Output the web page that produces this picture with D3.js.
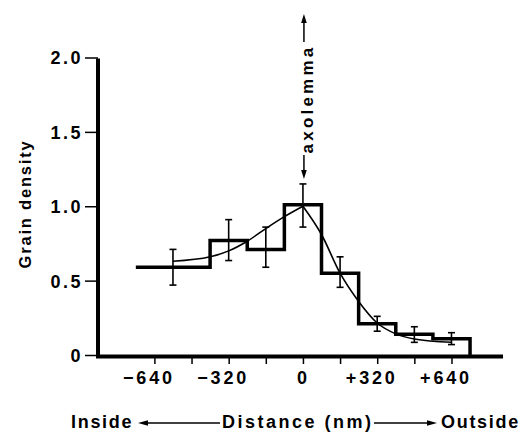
<!DOCTYPE html>
<html>
<head>
<meta charset="utf-8">
<script src="https://cdn.jsdelivr.net/npm/d3@7"></script>
<style>
  body { margin: 0; background: #fff; }
  svg { display: block; font-family: "Liberation Sans", Arial, sans-serif; font-weight: bold; }
</style>
</head>
<body>
<div id="chart"></div>
<script>
///////// data //////////
// histogram bins (nm) and grain density
let binEdges = [-720, -400, -240, -80, 80, 240, 400, 560, 720];
let binDensity = [0.59, 0.77, 0.71, 1.01, 0.55, 0.21, 0.14, 0.11];

// error bars
let errX = [-560, -320, -160, 0, 160, 320, 480, 640];
let errHi = [0.71, 0.91, 0.86, 1.15, 0.66, 0.26, 0.19, 0.15];
let errLo = [0.47, 0.635, 0.59, 0.86, 0.455, 0.16, 0.085, 0.07];

// fitted smooth curve
let fitX = [-560, -400, -320, -240, -160, -80, 0, 80, 160, 240, 320, 400, 480, 640];
let fitY = [0.63, 0.66, 0.70, 0.765, 0.85, 0.93, 1.0, 0.81, 0.55, 0.36, 0.215, 0.142, 0.108, 0.086];

// axis ticks
let yTicks = [0, 0.5, 1.0, 1.5, 2.0];
let yTickLabels = ["0", "0.5", "1.0", "1.5", "2.0"];
let xTicks = [-640, -480, -320, -160, 0, 160, 320, 480, 640];
let xLabelled = {"-640": "\u2212640", "-320": "\u2212320", "0": "0", "320": "+320", "640": "+640"};

////////////////////// drawing //////////////////////
let width = 524, height = 432;
let svg = d3.select("#chart").append("svg")
  .attr("width", width)
  .attr("height", height);

let x = d3.scaleLinear().domain([-883, 862]).range([98, 503]);
let y = d3.scaleLinear().domain([0, 2]).range([355, 57.5]);

// y axis
let yAxis = svg.append("g")
  .attr("transform", "translate(" + x.range()[0] + ",0)")
  .call(d3.axisLeft(y).tickValues(yTicks).tickSize(13)
        .tickFormat((d, i) => yTickLabels[i]));
yAxis.select(".domain").remove();
yAxis.selectAll(".tick line").attr("stroke", "#000").attr("stroke-width", 1.5);
yAxis.selectAll(".tick text")
  .attr("x", -15)
  .attr("dy", "0.36em")
  .style("font-size", "18px")
  .style("font-family", "Liberation Sans, Arial, sans-serif")
  .style("font-weight", "bold")
  .style("letter-spacing", "2.5px")
  .attr("fill", "#000");

// x axis
let xAxis = svg.append("g")
  .attr("transform", "translate(0," + y(0) + ")")
  .call(d3.axisBottom(x).tickValues(xTicks).tickSize(9)
        .tickFormat(d => xLabelled[String(d)] || ""));
xAxis.select(".domain").remove();
xAxis.selectAll(".tick line").attr("stroke", "#000").attr("stroke-width", 1.5);
xAxis.selectAll(".tick text")
  .attr("y", 29)
  .attr("dy", 0)
  .attr("dx", d => d !== 0 ? -6 : 0)
  .style("font-size", "18px")
  .style("font-family", "Liberation Sans, Arial, sans-serif")
  .style("font-weight", "bold")
  .style("letter-spacing", "2.8px")
  .attr("fill", "#000");

// thick axis lines
svg.append("line")
  .attr("x1", x.range()[0]).attr("x2", x.range()[0])
  .attr("y1", y(2) + 1).attr("y2", y(0) + 3)
  .attr("stroke", "#000").attr("stroke-width", 4);
svg.append("line")
  .attr("x1", x.range()[0] - 2).attr("x2", x.range()[1])
  .attr("y1", y(0) + 1.5).attr("y2", y(0) + 1.5)
  .attr("stroke", "#000").attr("stroke-width", 4);

// histogram steps
let stepData = binDensity.map((v, i) => [binEdges[i], v]);
stepData.push([binEdges[binEdges.length - 1], 0]);
svg.append("path")
  .datum(stepData)
  .attr("fill", "none")
  .attr("stroke", "#000")
  .attr("stroke-width", 3.5)
  .attr("stroke-linejoin", "miter")
  .attr("d", d3.line().x(d => x(d[0])).y(d => y(d[1])).curve(d3.curveStepAfter));

// fitted curve, drawn as two halves so the peak keeps its point
let fitPts = fitX.map((v, i) => [v, fitY[i]]);
let peakIdx = fitY.indexOf(d3.max(fitY));
let fitLine = d3.line().x(d => x(d[0])).y(d => y(d[1])).curve(d3.curveMonotoneX);
[fitPts.slice(0, peakIdx + 1), fitPts.slice(peakIdx)].forEach(part => {
  svg.append("path")
    .datum(part)
    .attr("fill", "none")
    .attr("stroke", "#000")
    .attr("stroke-width", 1.6)
    .attr("d", fitLine);
});

// error bars
let errG = svg.append("g").attr("stroke", "#000").attr("stroke-width", 1.6);
errX.forEach((v, i) => {
  let cx = x(v);
  errG.append("line").attr("x1", cx).attr("x2", cx).attr("y1", y(errHi[i])).attr("y2", y(errLo[i]));
  errG.append("line").attr("x1", cx - 3.5).attr("x2", cx + 3.5).attr("y1", y(errHi[i])).attr("y2", y(errHi[i]));
  errG.append("line").attr("x1", cx - 3.5).attr("x2", cx + 3.5).attr("y1", y(errLo[i])).attr("y2", y(errLo[i]));
});

// arrow helper
function arrow(x1, y1, x2, y2, headLen, headHalf) {
  let ang = Math.atan2(y2 - y1, x2 - x1);
  let bx = x2 - headLen * Math.cos(ang), by = y2 - headLen * Math.sin(ang);
  svg.append("line")
    .attr("x1", x1).attr("y1", y1).attr("x2", bx).attr("y2", by)
    .attr("stroke", "#000").attr("stroke-width", 1.5);
  let px = -Math.sin(ang) * headHalf, py = Math.cos(ang) * headHalf;
  svg.append("path")
    .attr("d", "M" + x2 + "," + y2 + "L" + (bx + px) + "," + (by + py) + "L" + (bx - px) + "," + (by - py) + "Z")
    .attr("fill", "#000");
}

// axolemma marker
let ax0 = x(0);
svg.append("text")
  .attr("transform", "translate(" + (ax0 + 10) + "," + 99 + ") rotate(-90)")
  .attr("text-anchor", "middle")
  .style("font-size", "17px")
  .style("letter-spacing", "3.2px")
  .text("axolemma");
arrow(ax0 + 1, 42, ax0 + 1, 14, 9, 2.8);
arrow(ax0 + 1, 155, ax0 + 1, 179, 9, 2.8);

// y label
svg.append("text")
  .attr("transform", "translate(31,204) rotate(-90)")
  .attr("text-anchor", "middle")
  .style("font-size", "16.5px")
  .style("letter-spacing", "1.8px")
  .text("Grain density");

// x label row
svg.append("text").attr("x", 71).attr("y", 428)
  .style("font-size", "18px").style("letter-spacing", "1.7px").text("Inside");
svg.append("text").attr("x", 222).attr("y", 428)
  .style("font-size", "18px").style("letter-spacing", "2.5px").text("Distance (nm)");
svg.append("text").attr("x", 441).attr("y", 428)
  .style("font-size", "18px").style("letter-spacing", "1.7px").text("Outside");
arrow(220, 423, 138, 423, 10, 2.8);
arrow(374, 423, 437, 423, 10, 2.8);
</script>
</body>
</html>
